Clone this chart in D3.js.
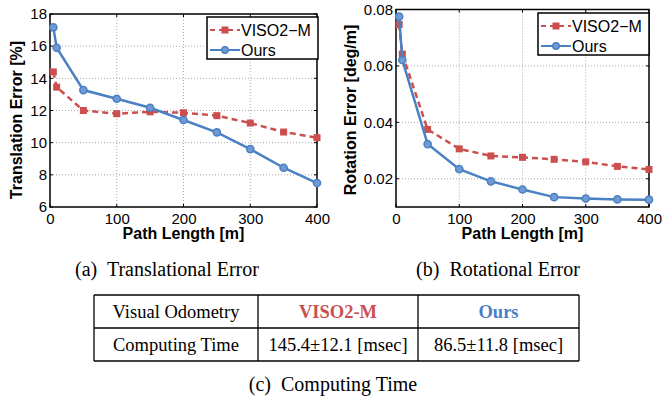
<!DOCTYPE html>
<meta charset="utf-8">
<style>
 body { margin: 0; background: #fff; }
 .axis text { font: 15px "Liberation Sans", Arial, sans-serif; fill: #000; }
 .axis-label { font: bold 16px "Liberation Sans", Arial, sans-serif; }
 .grid line { stroke: #aaa; stroke-dasharray: 1,2; }
 .caption { font: 20px "Liberation Serif", "Times New Roman", serif; white-space: pre; }
 .legend text { font: 16px "Liberation Sans", Arial, sans-serif; }
 .tbl text { font: 18.5px "Liberation Serif", "Times New Roman", serif; }
</style>
<body>
<svg width="664" height="399"></svg>
<script src="https://d3js.org/d3.v7.min.js"></script>
<script>

 // data
 var pathLen = [5, 10, 50, 100, 150, 200, 250, 300, 350, 400];
 var transViso = [14.4, 13.45, 12.0, 11.8, 11.92, 11.86, 11.68, 11.22, 10.66, 10.31];
 var transOurs = [17.17, 15.9, 13.27, 12.73, 12.17, 11.41, 10.64, 9.6, 8.44, 7.49];
 var rotViso = [0.0747, 0.0642, 0.0375, 0.0306, 0.0281, 0.0276, 0.0269, 0.026, 0.0244, 0.0233];
 var rotOurs = [0.0775, 0.0621, 0.0323, 0.0234, 0.0191, 0.0162, 0.0135, 0.013, 0.0127, 0.0126];
 var xTicks = [0, 100, 200, 300, 400];
 var transTicks = [6, 8, 10, 12, 14, 16, 18];
 var rotTicks = [0.02, 0.04, 0.06, 0.08];
 var seriesNames = ["VISO2\u2212M", "Ours"];
 var tableHead = ["Visual Odometry", "VISO2-M", "Ours"];
 var tableRow = ["Computing Time", "145.4\u00b112.1 [msec]", "86.5\u00b111.8 [msec]"];

 var red = "#cc4f4f", blue = "#4a80c4";
 var svg = d3.select("svg");

 function panel(o) {
     var x = d3.scaleLinear().domain([0, 400]).range([o.left, o.right]);
     var y = d3.scaleLinear().domain(o.ydom).range([o.bottom, o.top]);
     var g = svg.append("g");

     // dotted grid
     var grid = g.append("g").attr("class", "grid");
     grid.selectAll(".gx").data(xTicks.slice(1, -1)).enter().append("line")
         .attr("x1", d => x(d)).attr("x2", d => x(d))
         .attr("y1", o.top).attr("y2", o.bottom);
     grid.selectAll(".gy").data(o.ticks.filter(t => t > o.ydom[0] && t < o.ydom[1])).enter().append("line")
         .attr("x1", o.left).attr("x2", o.right)
         .attr("y1", d => y(d)).attr("y2", d => y(d));

     // axes
     g.append("g").attr("class", "axis")
      .attr("transform", "translate(0," + o.bottom + ")")
      .call(d3.axisBottom(x).tickValues(xTicks).tickSize(0).tickPadding(6))
      .call(a => a.select(".domain").remove());
     g.append("g").attr("class", "axis")
      .attr("transform", "translate(" + o.left + ",0)")
      .call(d3.axisLeft(y).tickValues(o.ticks).tickFormat(o.fmt).tickSize(0).tickPadding(3))
      .call(a => a.select(".domain").remove());

     // inward ticks
     var tk = g.append("g").attr("stroke", "#000");
     xTicks.forEach(function(t) {
         tk.append("line").attr("x1", x(t)).attr("x2", x(t)).attr("y1", o.bottom).attr("y2", o.bottom - 3);
         tk.append("line").attr("x1", x(t)).attr("x2", x(t)).attr("y1", o.top).attr("y2", o.top + 3);
     });
     o.ticks.forEach(function(t) {
         tk.append("line").attr("x1", o.left).attr("x2", o.left + 3).attr("y1", y(t)).attr("y2", y(t));
         tk.append("line").attr("x1", o.right).attr("x2", o.right - 3).attr("y1", y(t)).attr("y2", y(t));
     });

     g.append("rect")
      .attr("x", o.left).attr("y", o.top)
      .attr("width", o.right - o.left).attr("height", o.bottom - o.top)
      .attr("fill", "none").attr("stroke", "#000").attr("stroke-width", 1.5);

     var line = d3.line().x((d, i) => x(pathLen[i])).y(d => y(d));

     g.append("path").datum(o.viso).attr("d", line)
      .attr("fill", "none").attr("stroke", red).attr("stroke-width", 2.5)
      .attr("stroke-dasharray", "6,4");
     g.selectAll(".sq").data(o.viso).enter().append("rect")
      .attr("x", (d, i) => x(pathLen[i]) - 3.5).attr("y", d => y(d) - 3.5)
      .attr("width", 7).attr("height", 7).attr("fill", red);

     g.append("path").datum(o.ours).attr("d", line)
      .attr("fill", "none").attr("stroke", blue).attr("stroke-width", 2.5);
     g.selectAll(".ci").data(o.ours).enter().append("circle")
      .attr("cx", (d, i) => x(pathLen[i])).attr("cy", d => y(d)).attr("r", 3.6)
      .attr("fill", "#6f9ad2").attr("stroke", blue).attr("stroke-width", 1.5);

     // labels
     g.append("text").attr("class", "axis-label")
      .attr("text-anchor", "middle")
      .attr("x", (o.left + o.right) / 2).attr("y", 239)
      .text("Path Length [m]");
     g.append("text").attr("class", "axis-label")
      .attr("text-anchor", "middle")
      .attr("transform", "translate(" + o.ylabX + "," + o.ylabY + ") rotate(-90)")
      .text(o.ylab);
     g.append("text").attr("class", "caption")
      .attr("text-anchor", "middle")
      .attr("x", o.capX).attr("y", 276)
      .text(o.caption);

     // legend
     var lg = g.append("g").attr("class", "legend")
               .attr("transform", "translate(" + o.leg[0] + "," + o.leg[1] + ")");
     lg.append("rect").attr("width", 111).attr("height", 42)
       .attr("fill", "#fff").attr("stroke", "#000").attr("stroke-width", 1.5);
     [[red, true], [blue, false]].forEach(function(s, i) {
         var yy = 13 + i * 20;
         lg.append("line").attr("x1", 3).attr("x2", 33).attr("y1", yy).attr("y2", yy)
           .attr("stroke", s[0]).attr("stroke-width", 2)
           .attr("stroke-dasharray", s[1] ? "5,4" : null);
         if (s[1]) lg.append("rect").attr("x", 14.5).attr("y", yy - 3.5).attr("width", 7).attr("height", 7).attr("fill", red);
         else lg.append("circle").attr("cx", 18).attr("cy", yy).attr("r", 3.2).attr("fill", "#6f9ad2").attr("stroke", blue).attr("stroke-width", 1.5);
         lg.append("text").attr("x", 34).attr("y", yy + 6).text(seriesNames[i]);
     });
 }

 panel({left: 50, right: 317, top: 14, bottom: 207, ydom: [6, 18], ticks: transTicks,
        fmt: d3.format("d"), viso: transViso, ours: transOurs,
        ylab: "Translation Error [%]", ylabX: 22, ylabY: 120,
        caption: "(a)  Translational Error", capX: 167, leg: [207, 17]});
 panel({left: 396, right: 649, top: 9.5, bottom: 207, ydom: [0.01, 0.08], ticks: rotTicks,
        fmt: d3.format(".2f"), viso: rotViso, ours: rotOurs,
        ylab: "Rotation Error [deg/m]", ylabX: 356, ylabY: 110,
        caption: "(b)  Rotational Error", capX: 498, leg: [538, 13]});

 // table
 var colX = [94, 258, 418, 579], rowY = [295, 328, 361];
 var tb = svg.append("g").attr("class", "tbl");
 tb.selectAll(".h").data(rowY).enter().append("line")
   .attr("x1", colX[0]).attr("x2", colX[3]).attr("y1", d => d).attr("y2", d => d)
   .attr("stroke", "#000").attr("stroke-width", 1.3);
 tb.selectAll(".v").data(colX).enter().append("line")
   .attr("x1", d => d).attr("x2", d => d).attr("y1", rowY[0]).attr("y2", rowY[2])
   .attr("stroke", "#000").attr("stroke-width", 1.3);
 [tableHead, tableRow].forEach(function(row, r) {
     row.forEach(function(t, c) {
         var txt = tb.append("text").attr("text-anchor", "middle")
            .attr("x", (colX[c] + colX[c + 1]) / 2)
            .attr("y", (rowY[r] + rowY[r + 1]) / 2 + 6)
            .text(t);
         if (r == 0 && c > 0) txt.style("font-weight", "bold").style("fill", c == 1 ? red : blue);
     });
 });
 svg.append("text").attr("class", "caption").attr("text-anchor", "middle")
    .attr("x", 333).attr("y", 391).text("(c)  Computing Time");

</script>
</body>
